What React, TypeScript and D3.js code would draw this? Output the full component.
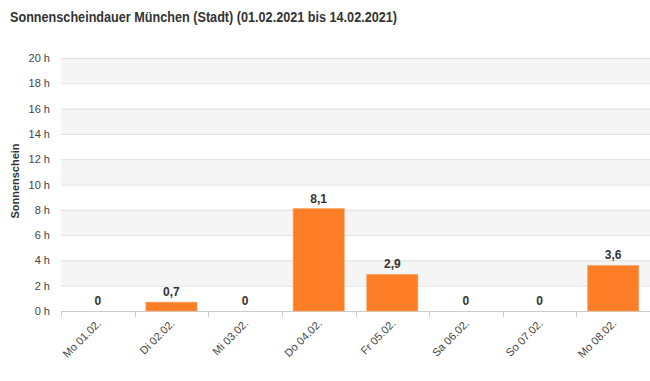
import React from "react";
import * as d3 from "d3";

const categories = ["Mo 01.02.", "Di 02.02.", "Mi 03.02.", "Do 04.02.", "Fr 05.02.", "Sa 06.02.", "So 07.02.", "Mo 08.02."];
const values = [0, 0.7, 0, 8.1, 2.9, 0, 0, 3.6];
const yTicks = [0, 2, 4, 6, 8, 10, 12, 14, 16, 18, 20];
const title = "Sonnenscheindauer München (Stadt) (01.02.2021 bis 14.02.2021)";
const yTitle = "Sonnenschein";

const W = 650, H = 381;
const left = 61, right = 650, top = 58, bottom = 311;

export default function App() {
  const x = d3.scaleBand<string>().domain(categories).range([left, right]).paddingInner(0).paddingOuter(0);
  const y = d3.scaleLinear().domain([0, 20]).range([bottom, top]);
  const bw = x.bandwidth();
  const barW = bw * 0.695;
  const font = "'Liberation Sans', Arial, sans-serif";
  const bands = yTicks.slice(0, -1).filter((t) => (t / 2) % 2 === 1);
  return (
    <svg width={W} height={H} style={{ position: "absolute", left: 0, top: 0, fontFamily: font }}>
      <rect x={0} y={0} width={W} height={H} fill="#fff" />
      <text x={10} y={22} fontSize={14.5} fontWeight="bold" fill="#333" textLength={387} lengthAdjust="spacingAndGlyphs">{title}</text>
      {bands.map((t) => (
        <rect key={t} x={left} y={y(t + 2)} width={right - left} height={y(t) - y(t + 2)} fill="#f5f5f5" />
      ))}
      {yTicks.map((t) => (
        <g key={t}>
          <line x1={left} x2={right} y1={y(t) + 0.5} y2={y(t) + 0.5} stroke="#e0e0e0" strokeWidth={1} />
          <text x={50} y={y(t) + 4} fontSize={11} textAnchor="end" fill="#444">{t} h</text>
        </g>
      ))}
      <text transform={`translate(19,181) rotate(-90)`} fontSize={11} fontWeight="bold" textAnchor="middle" fill="#333">{yTitle}</text>
      <line x1={left} x2={right} y1={bottom + 0.5} y2={bottom + 0.5} stroke="#ccc" />
      {[...categories.map((c) => x(c)!), right - 0.5].map((p, i) => (
        <line key={i} x1={Math.round(p) + 0.5} x2={Math.round(p) + 0.5} y1={bottom} y2={bottom + 6} stroke="#ccc" />
      ))}
      {categories.map((c, i) => {
        const cx = x(c)! + bw / 2;
        const v = values[i];
        return (
          <g key={c}>
            {v > 0 && (
              <rect x={cx - barW / 2} y={y(v)} width={barW} height={bottom - y(v)} fill="#fd7e27" stroke="#fda66a" strokeWidth={0.6} />
            )}
            <text x={cx} y={y(v) - 6} fontSize={12} fontWeight="bold" textAnchor="middle" fill="#333">{String(v).replace(".", ",")}</text>
            <text transform={`translate(${cx + 4},${bottom + 13}) rotate(-45)`} fontSize={11} textAnchor="end" fill="#444">{c}</text>
          </g>
        );
      })}
    </svg>
  );
}
